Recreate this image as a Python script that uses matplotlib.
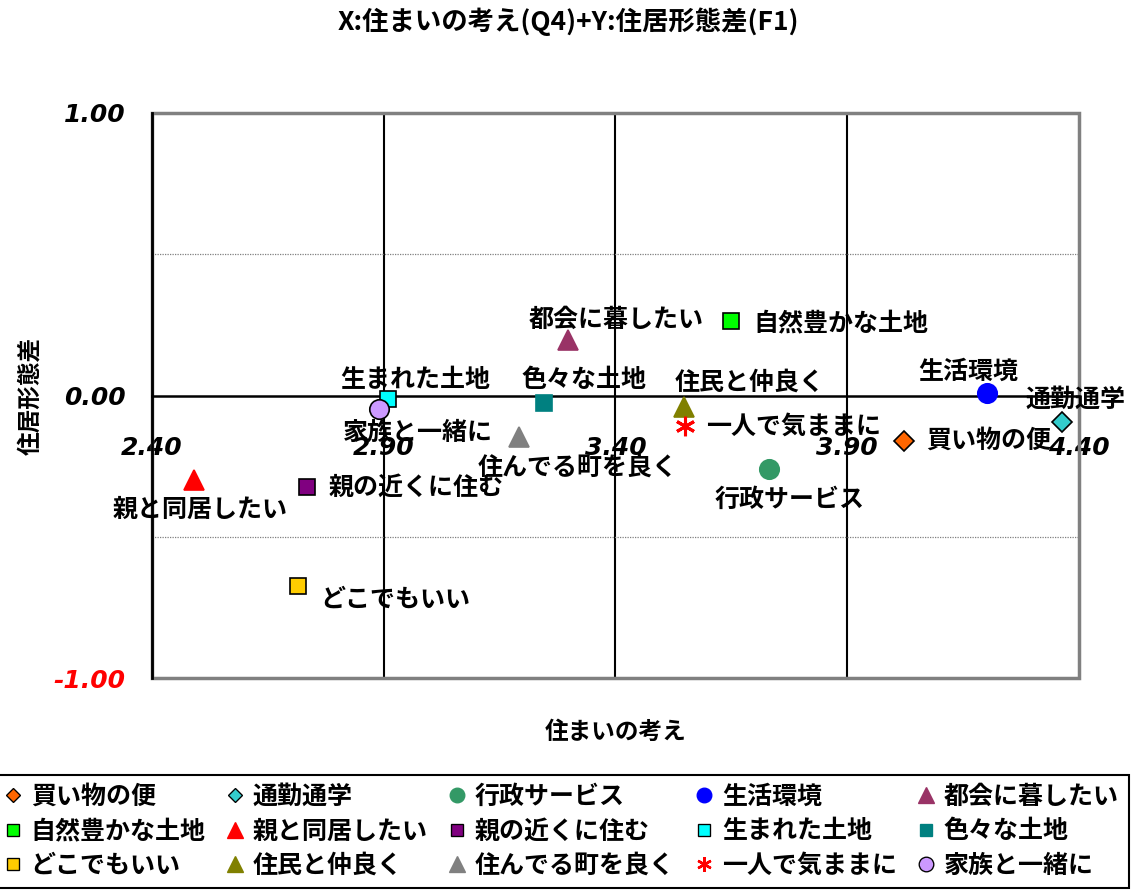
import matplotlib
matplotlib.use('Agg')
import matplotlib.pyplot as plt
from matplotlib.lines import Line2D
from matplotlib.patches import Rectangle

plt.rcParams['font.family'] = ['Noto Sans CJK JP', 'DejaVu Sans']

# data
names = ['買い物の便', '通勤通学', '行政サービス', '生活環境', '都会に暮したい',
         '自然豊かな土地', '親と同居したい', '親の近くに住む', '生まれた土地', '色々な土地',
         'どこでもいい', '住民と仲良く', '住んでる町を良く', '一人で気ままに', '家族と一緒に']
x_vals = [4.022, 4.363, 3.731, 4.201, 3.297,
          3.649, 2.491, 2.734, 2.909, 3.246,
          2.715, 3.548, 3.192, 3.550, 2.890]
y_vals = [-0.161, -0.094, -0.260, 0.009, 0.196,
          0.264, -0.299, -0.324, -0.012, -0.027,
          -0.674, -0.041, -0.147, -0.108, -0.048]
x_ticks = [2.40, 2.90, 3.40, 3.90, 4.40]
y_ticks = [-1.00, 0.00, 1.00]
y_minor = [-0.5, 0.5]

# styles: marker, face colour, edge colour, size
styles = [
    ('D', '#FF6600', 'black', 10),
    ('D', '#33CCCC', 'black', 10),
    ('o', '#339966', '#339966', 14),
    ('o', '#0000FF', '#0000FF', 14),
    ('^', '#993366', '#993366', 15),
    ('s', '#00FF00', 'black', 12),
    ('^', '#FF0000', '#FF0000', 15),
    ('s', '#800080', 'black', 12),
    ('s', '#00FFFF', 'black', 12),
    ('s', '#008080', '#008080', 12),
    ('s', '#FFCC00', 'black', 12),
    ('^', '#808000', '#808000', 15),
    ('^', '#808080', '#808080', 15),
    ((6, 2, 0), '#FF0000', '#FF0000', 14),
    ('o', '#CC99FF', 'black', 14),
]
# label offsets in pixels (dx, dy up) and alignment
label_pos = [
    (22, 0, 'left'), (14, 22, 'center'), (21, -31, 'center'), (-19, 21, 'center'),
    (48, 20, 'center'), (22, -2, 'left'), (6, -30, 'center'), (22, -1, 'left'),
    (27, 19, 'center'), (40, 23, 'center'), (22, -14, 'left'), (66, 24, 'center'),
    (59, -31, 'center'), (21, -1, 'left'), (39, -24, 'center'),
]
WEIGHT = 'bold'

dpi = 100
fig = plt.figure(figsize=(1138 / dpi, 891 / dpi), dpi=dpi)
ax = fig.add_axes([152 / 1138, 1 - 678 / 891, (1079 - 152) / 1138, (678 - 113) / 891])

ax.set_xlim(x_ticks[0], x_ticks[-1])
ax.set_ylim(y_ticks[0], y_ticks[-1])

# frame: gray box, black y axis, black zero line
ax.add_patch(Rectangle((0, 0), 1, 1, transform=ax.transAxes, fill=False,
                       ec='#808080', lw=2.5, clip_on=False, zorder=2.4))
for side in ['top', 'right']:
    ax.spines[side].set_visible(False)
ax.spines['left'].set_color('black')
ax.spines['left'].set_linewidth(2)
ax.spines['left'].set_zorder(2.6)
ax.spines['bottom'].set_position(('data', 0))
ax.spines['bottom'].set_color('black')
ax.spines['bottom'].set_linewidth(1.8)

for xv in x_ticks[1:-1]:
    ax.axvline(xv, color='black', lw=1.5, zorder=1)
for yv in y_minor:
    ax.axhline(yv, color='#808080', lw=0.9, ls=(0, (1, 1)), zorder=1)

ax.set_xticks(x_ticks)
ax.set_xticklabels([f'{v:.2f}' for v in x_ticks])
ax.set_yticks(y_ticks)
ax.set_yticklabels([f'{v:.2f}' for v in y_ticks])
ax.tick_params(axis='x', length=0, pad=29)
ax.tick_params(axis='y', length=0, pad=19)
for lab in ax.get_xticklabels() + ax.get_yticklabels():
    lab.set_fontfamily('DejaVu Sans')
    lab.set_fontweight('bold')
    lab.set_fontstyle('oblique')
    lab.set_fontsize(18)
for lab, v in zip(ax.get_yticklabels(), y_ticks):
    if v < 0:
        lab.set_color('red')

handles = []
for name, xv, yv, (mk, fc, ec, ms), (dx, dy, ha) in zip(names, x_vals, y_vals, styles, label_pos):
    lw = 2.2 if mk == (6, 2, 0) else 1.2
    ax.plot([xv], [yv], ls='none', marker=mk, ms=ms, mfc=fc, mec=ec, mew=lw,
            zorder=4, clip_on=False)
    ax.annotate(name, (xv, yv), xytext=(dx, dy), textcoords='offset pixels',
                ha=ha, va='center', fontsize=18, fontweight=WEIGHT, zorder=5)
    handles.append(Line2D([], [], ls='none', marker=mk, ms=ms * 0.75, mfc=fc,
                          mec=ec, mew=lw * 0.8))

ax.set_xlabel('住まいの考え', fontsize=17, fontweight=WEIGHT, labelpad=0)
ax.xaxis.set_label_coords(0.5, -0.075)
ax.set_ylabel('住居形態差', fontsize=17, fontweight=WEIGHT)
ax.yaxis.set_label_coords(-0.118, 0.5)

fig.text(568 / 1138, 1 - 22 / 891, 'X:住まいの考え(Q4)+Y:住居形態差(F1)',
         ha='center', va='center', fontsize=19, fontweight=WEIGHT)

# legend fills row by row like the original
order = [r * 5 + c for c in range(5) for r in range(3)]
leg_top = 1 - 775 / 891
leg = fig.legend([handles[i] for i in order], [names[i] for i in order],
                 ncol=5, loc='upper left', bbox_to_anchor=(-0.006, leg_top - 0.1, 0.998, 0.1),
                 mode='expand', borderaxespad=0, frameon=True, fancybox=False,
                 edgecolor='black', framealpha=1, handlelength=0.8, handletextpad=0.3,
                 labelspacing=0.42, borderpad=0.4,
                 prop={'size': 18, 'weight': WEIGHT})
leg.get_frame().set_linewidth(1.5)

fig.savefig('out.png', dpi=dpi)
